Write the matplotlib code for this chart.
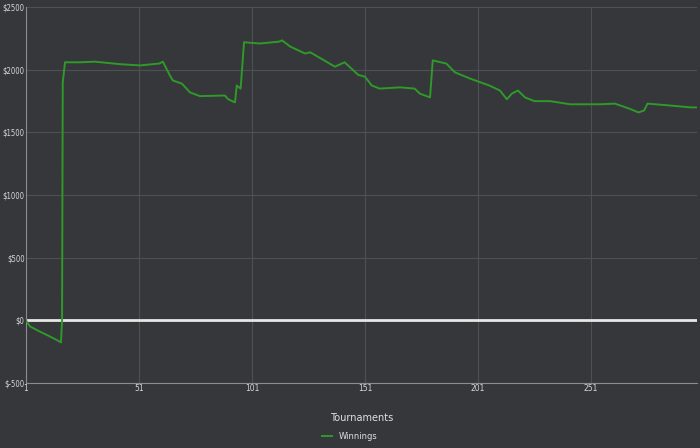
import matplotlib.pyplot as plt
from matplotlib.ticker import FuncFormatter

# tournament number and cumulative winnings
tournament = [1, 2.8, 7, 11.6, 15, 16.5, 17, 17.3, 18.3, 25, 31.5, 42.6, 51.4, 60, 61.6, 64.7, 66, 70,
              73.6, 78, 89, 90.5, 93.5, 94.3, 96, 97.5, 104.5, 113, 114.3, 118, 124.5, 126.8,
              137.7, 142, 148, 151, 154, 157.5, 166.5, 173, 175.3, 179.8, 181, 187, 190.8,
              197.5, 206, 210.7, 213.8, 216, 218.7, 221.8, 226, 233, 241.7, 255, 261.6,
              268, 272, 274.5, 276, 286, 295, 298]
winnings = [0, -48, -88, -128, -160, -176, 0, 1900, 2060, 2060, 2065, 2045, 2035, 2050, 2065, 1955, 1915, 1890,
            1820, 1790, 1795, 1765, 1740, 1875, 1850, 2220, 2210, 2225, 2235, 2185, 2130, 2140,
            2025, 2060, 1960, 1945, 1875, 1850, 1860, 1850, 1810, 1780, 2075, 2050, 1980,
            1930, 1875, 1835, 1765, 1810, 1835, 1780, 1750, 1750, 1725, 1725, 1730,
            1690, 1660, 1675, 1730, 1715, 1700, 1700]

xticks = [1, 51, 101, 151, 201, 251]
yticks = [-500, 0, 500, 1000, 1500, 2000, 2500]

bg = '#35373a'
fig = plt.figure(figsize=(7, 4.48), dpi=100, facecolor=bg)
ax = fig.add_axes([0.037, 0.145, 0.959, 0.839], facecolor=bg)

ax.plot(tournament, winnings, color='#2f9a2a', lw=1.4, label='Winnings', zorder=3)
ax.axhline(0, color='#e6e6e6', lw=2, zorder=2)

ax.set_xlim(1, 298)
ax.set_ylim(-500, 2500)
ax.set_xticks(xticks)
ax.set_yticks(yticks)
ax.yaxis.set_major_formatter(FuncFormatter(lambda v, p: f'$-{-int(v)}' if v < 0 else f'${int(v)}'))
ax.grid(True, color='#4d5054', lw=0.8)
ax.tick_params(colors='#d8d8d8', labelsize=5.5, length=0, pad=1)
for lbl in ax.get_yticklabels():
    lbl.set_fontstretch('condensed')
for s in ax.spines.values():
    s.set_visible(False)
ax.spines['left'].set_visible(True)
ax.spines['left'].set_color('#8a8c8e')
ax.spines['bottom'].set_visible(True)
ax.spines['bottom'].set_color('#8a8c8e')

ax.set_xlabel('Tournaments', color='#e0e0e0', fontsize=7, labelpad=14)
fig.legend(loc='lower center', bbox_to_anchor=(0.5, 0.0), frameon=False, fontsize=6,
           labelcolor='#e0e0e0', handlelength=1.2)

fig.savefig('out.png', facecolor=bg)
